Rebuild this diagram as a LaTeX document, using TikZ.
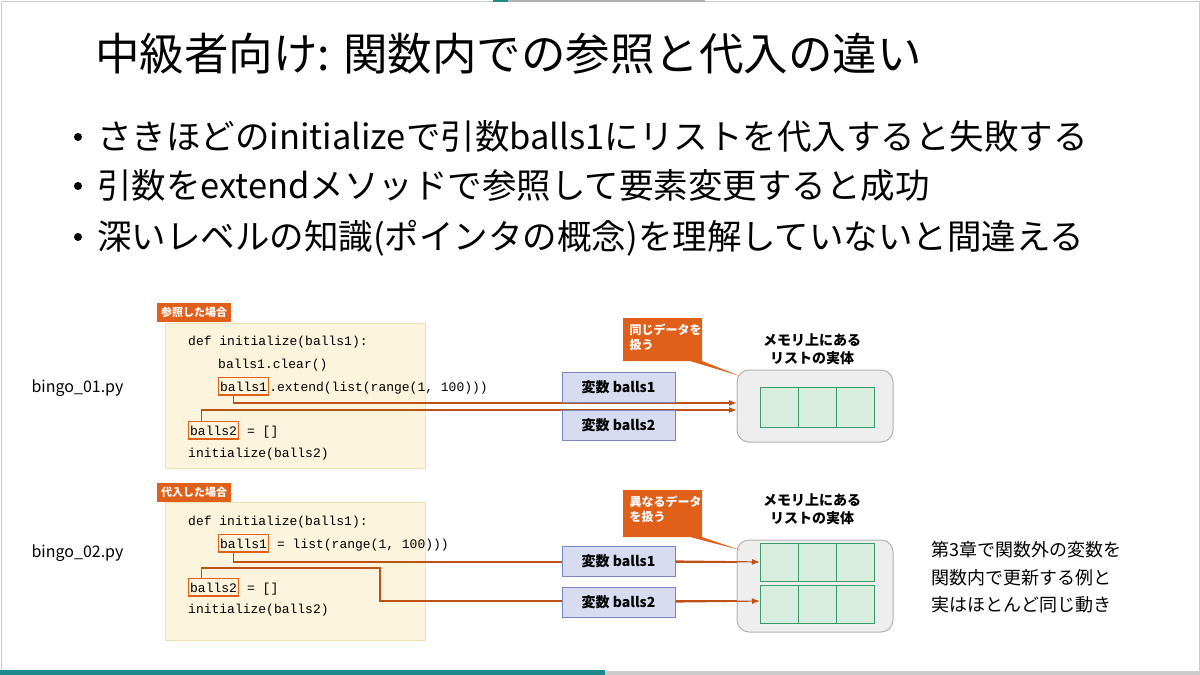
\documentclass[tikz,border=0pt]{standalone}
\usepackage{fontspec}
\setmainfont{Noto Sans CJK JP}
\newfontfamily\codefont{Liberation Mono}
\usetikzlibrary{arrows.meta,positioning}
\definecolor{tagorange}{HTML}{E0601A}
\definecolor{codebg}{HTML}{FDF4DE}
\definecolor{codeline}{HTML}{F0E0B8}
\definecolor{varfill}{HTML}{D8DCF0}
\definecolor{varline}{HTML}{7A86C0}
\definecolor{cellfill}{HTML}{D6EDDF}
\definecolor{cellline}{HTML}{3A9A6A}
\definecolor{memfill}{HTML}{EEEEEE}
\definecolor{barteal}{HTML}{1F8A8A}
\tikzset{
  tagbox/.style={fill=tagorange, text=white, font=\fontsize{11}{12}\selectfont\bfseries, inner sep=4pt, anchor=north west},
  code/.style={font=\codefont\fontsize{13}{14}\selectfont, anchor=base west, inner sep=0pt},
  frame/.style={draw=tagorange, line width=1.3pt, inner xsep=1.5pt, inner ysep=4pt, anchor=base west, font=\codefont\fontsize{13}{14}\selectfont},
  varbox/.style={draw=varline, fill=varfill, minimum width=113pt, minimum height=30pt, font=\fontsize{14}{15}\selectfont\bfseries},
  link/.style={draw=tagorange!85!black, line width=1.2pt, -{Latex[length=8pt,width=6pt]}},
  bullet/.style={anchor=base west, inner sep=0pt, font=\fontsize{34.5}{36}\selectfont},
  memtext/.style={align=center, font=\fontsize{14}{18}\selectfont\bfseries}
}
\begin{document}
\begin{tikzpicture}[x=1pt,y=-1pt]
   \useasboundingbox (0,0) rectangle (1200,675);
   \def\Xc{188}
   \def\Xi{218}

         \draw[gray!40] (1,1) rectangle (1199,674);
	% slide bars
        \fill[gray!60] (493,0) rectangle (705,2);
        \fill[barteal] (493,0) rectangle (508,2);
        \fill[barteal] (0,670) rectangle (605,675);
        \fill[gray!40] (605,671) rectangle (1200,675);
	% title and bullets
        \node[anchor=base west, inner sep=0pt, font=\fontsize{44.5}{46}\selectfont] (title) at (95,70) {中級者向け: 関数内での参照と代入の違い};
        \node[bullet] (b1) at (97,149) {さきほどのinitializeで引数balls1にリストを代入すると失敗する};
        \node[bullet] (b2) at (97,198) {引数をextendメソッドで参照して要素変更すると成功};
        \node[bullet] (b3) at (97,249) {深いレベルの知識(ポインタの概念)を理解していないと間違える};
        \foreach \y in {137,186,237} \fill (78,\y) circle (4pt);

	% first case
        \node[anchor=base west, font=\fontsize{16}{18}\selectfont] (file1) at (28,392) {bingo\_01.py};
        \draw[codeline, fill=codebg] (165,323) rectangle (425,468);
        \node[tagbox] (tag1) at (157,303) {参照した場合};
        \node[code] (c1a) at (\Xc,345) {def initialize(balls1):};
        \node[code] (c1b) at (\Xi,368) {balls1.clear()};
        \node[frame] (f1a) at (\Xi,391) {balls1};
        \node[code, base right=0pt of f1a.base east] (c1c) {.extend(list(range(1, 100)))};
        \node[frame] (f1b) at (\Xc,435) {balls2};
        \node[code, base right=0pt of f1b.base east] (c1d) {\ = []};
        \node[code] (c1e) at (\Xc,457) {initialize(balls2)};
        \coordinate (m1a) at (737,403);
        \coordinate (m1b) at (737,410);
        \draw[link] ([xshift=-10pt]f1a.south) |- (m1a);
        \draw[link] ([xshift=-12pt]f1b.north) |- (m1b);
        \node[varbox] (v1a) at (618.5,387) {変数 balls1};
        \node[varbox] (v1b) at (618.5,425) {変数 balls2};
        \draw[gray!60, fill=memfill, rounded corners=12pt, line width=1pt] (737,370) rectangle (893,442);
        \foreach \i in {0,1,2} \draw[cellline, fill=cellfill] (760+\i*38,387) rectangle (798+\i*38,427);
        \fill[tagorange] (623,318) rectangle (702,361) (690,361) -- (702,361) -- (740,376) -- cycle;
        \node[anchor=north west, text=white, align=left, font=\fontsize{12}{15}\selectfont\bfseries] (call1) at (626,320) {同じデータを\\扱う};
        \node[memtext] (mem1) at (812,349) {メモリ上にある\\リストの実体};

	% second case
        \node[anchor=base west, font=\fontsize{16}{18}\selectfont] (file2) at (28,557) {bingo\_02.py};
        \draw[codeline, fill=codebg] (165,502) rectangle (425,640);
        \node[tagbox] (tag2) at (157,483) {代入した場合};
        \node[code] (c2a) at (\Xc,525) {def initialize(balls1):};
        \node[frame] (f2a) at (\Xi,548) {balls1};
        \node[code, base right=0pt of f2a.base east] (c2b) {\ = list(range(1, 100)))};
        \node[frame] (f2b) at (\Xc,592) {balls2};
        \node[code, base right=0pt of f2b.base east] (c2c) {\ = []};
        \node[code] (c2d) at (\Xc,613) {initialize(balls2)};
        \coordinate (m2a) at (760,562);
        \coordinate (m2b) at (760,601);
        \draw[link] ([xshift=-10pt]f2a.south) |- (m2a);
        \draw[link] ([xshift=-12pt]f2b.north) |- (380,568) |- (m2b);
        \node[varbox] (v2a) at (618.5,561) {変数 balls1};
        \node[varbox] (v2b) at (618.5,602) {変数 balls2};
        \draw[gray!60, fill=memfill, rounded corners=12pt, line width=1pt] (737,540) rectangle (893,632);
        \foreach \i in {0,1,2} {
          \draw[cellline, fill=cellfill] (760+\i*38,543) rectangle (798+\i*38,581);
          \draw[cellline, fill=cellfill] (760+\i*38,585) rectangle (798+\i*38,623);
        }
        \draw[link] (v2a.east) -- (m2a);
        \draw[link] (v2b.east) -- (m2b);
        \fill[tagorange] (623,490) rectangle (702,537) (690,537) -- (702,537) -- (740,550) -- cycle;
        \node[anchor=north west, text=white, align=left, font=\fontsize{12}{15}\selectfont\bfseries] (call2) at (626,492) {異なるデータ\\を扱う};
        \node[memtext] (mem2) at (812,509) {メモリ上にある\\リストの実体};
        \node[anchor=north west, align=left, font=\fontsize{18}{27.5}\selectfont] (note) at (928,538) {第3章で関数外の変数を\\関数内で更新する例と\\実はほとんど同じ動き};
\end{tikzpicture}
\end{document}
